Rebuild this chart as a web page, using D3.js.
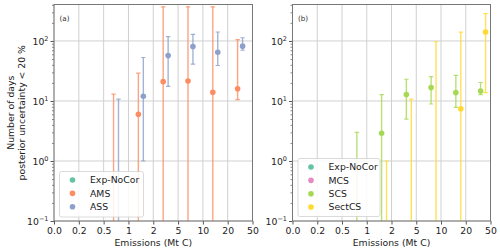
<!DOCTYPE html>
<html>
<head>
<meta charset="utf-8">
<script src="https://cdn.jsdelivr.net/npm/d3@7"></script>
<style>
  body { margin: 0; background: #fff; }
  svg { display: block; font-family: "DejaVu Sans", sans-serif; }
</style>
</head>
<body>
<svg id="chart" width="500" height="252"></svg>
<script>
// emission bins (x axis is categorical, one slot per bin edge)
const binLabels = ["0.0", "0.2", "0.5", "1", "2", "5", "10", "20", "50"];

// panel (a)
const amsBins  = [2, 3, 4, 5, 6, 7];
const amsValue = [null, 6, 21, 21.5, 14, 16];
const amsLower = [0, 0, 0, 0, 0, 10.5];
const amsUpper = [13, 29, 370, 370, 370, 105];

const assBins  = [2, 3, 4, 5, 6, 7];
const assValue = [null, 12, 57, 81, 65, 82];
const assLower = [0, 1, 17.5, 41, 39, 70];
const assUpper = [10.7, 53, 118, 129, 141, 113];

// panel (b)
const scsBins  = [2, 3, 4, 5, 6, 7];
const scsValue = [null, 2.9, 12.8, 16.7, 13.8, 14.7];
const scsLower = [0, 0, 5, 8.9, 7.85, 12.8];
const scsUpper = [3.0, 12.8, 23, 25.5, 26.8, 20.3];

const sectBins  = [3, 4, 5, 6, 7];
const sectValue = [null, null, null, 7.4, 141];
const sectLower = [0, 0, 0, 0, 13.8];
const sectUpper = [1.0, 10.7, 97, 140, 285];

const yTicks = [0.1, 1, 10, 100];
const yExp = ["\u22121", "0", "1", "2"];

const pack = (bins, v, lo, hi) => bins.map((b, i) => ({bin: b, value: v[i], lower: lo[i], upper: hi[i]}));

const panels = [
    {
        label: "(a)", left: 54, right: 252.5,
        series: [
            {name: "Exp-NoCor", color: "#66c2a5", offset: 0.2, data: []},
            {name: "AMS", color: "#fc8d62", offset: 0.4, data: pack(amsBins, amsValue, amsLower, amsUpper)},
            {name: "ASS", color: "#8da0cb", offset: 0.6, data: pack(assBins, assValue, assLower, assUpper)}
        ],
        legend: {x: 59.5, y: 171.5, w: 84, h: 45.5}
    },
    {
        label: "(b)", left: 292.5, right: 490.5,
        series: [
            {name: "Exp-NoCor", color: "#66c2a5", offset: 0.2, data: []},
            {name: "MCS", color: "#e78ac3", offset: 0.4, data: []},
            {name: "SCS", color: "#a6d854", offset: 0.6, data: pack(scsBins, scsValue, scsLower, scsUpper)},
            {name: "SectCS", color: "#ffd92f", offset: 0.8, data: pack(sectBins, sectValue, sectLower, sectUpper)}
        ],
        legend: {x: 298, y: 158.5, w: 82, h: 58}
    }
];

const plotTop = 4.5, plotBottom = 221;
const fs = 9.3;
const svg = d3.select("#chart");

const yScale = d3.scaleLog().domain([0.1, 405]).range([plotBottom, plotTop]);
const minorTicks = [];
[0.1, 1, 10, 100].forEach(d => { for (let k = 2; k <= 9; k++) if (d * k < 405) minorTicks.push(d * k); });

panels.forEach((p, pi) => {
    const xScale = d3.scaleLinear().domain([0, binLabels.length - 1]).range([p.left, p.right]);
    const g = svg.append("g");

    g.append("clipPath").attr("id", "clip" + pi)
        .append("rect").attr("x", p.left).attr("y", plotTop).attr("width", p.right - p.left).attr("height", plotBottom - plotTop);

    // grid
    g.append("g").selectAll("line").data(d3.range(binLabels.length)).join("line")
        .attr("x1", d => xScale(d)).attr("x2", d => xScale(d))
        .attr("y1", plotTop).attr("y2", plotBottom)
        .attr("stroke", "#d0d0d0").attr("stroke-width", 1);
    g.append("g").selectAll("line").data(yTicks).join("line")
        .attr("x1", p.left).attr("x2", p.right)
        .attr("y1", d => yScale(d)).attr("y2", d => yScale(d))
        .attr("stroke", "#d0d0d0").attr("stroke-width", 1);

    // error bars + dots
    const marks = g.append("g").attr("clip-path", `url(#clip${pi})`);
    p.series.forEach(s => {
        const sg = marks.append("g");
        const ly = d => d.lower > 0 ? yScale(d.lower) : plotBottom + 5;
        sg.selectAll(".bar").data(s.data).join("line")
            .attr("x1", d => xScale(d.bin + s.offset)).attr("x2", d => xScale(d.bin + s.offset))
            .attr("y1", ly).attr("y2", d => yScale(d.upper))
            .attr("stroke", s.color).attr("stroke-opacity", 0.8).attr("stroke-width", 1.4);
        sg.selectAll(".capHi").data(s.data).join("line")
            .attr("x1", d => xScale(d.bin + s.offset) - 2.2).attr("x2", d => xScale(d.bin + s.offset) + 2.2)
            .attr("y1", d => yScale(d.upper)).attr("y2", d => yScale(d.upper))
            .attr("stroke", s.color).attr("stroke-opacity", 0.8).attr("stroke-width", 1.2);
        sg.selectAll(".capLo").data(s.data.filter(d => d.lower > 0)).join("line")
            .attr("x1", d => xScale(d.bin + s.offset) - 2.2).attr("x2", d => xScale(d.bin + s.offset) + 2.2)
            .attr("y1", d => yScale(d.lower)).attr("y2", d => yScale(d.lower))
            .attr("stroke", s.color).attr("stroke-opacity", 0.8).attr("stroke-width", 1.2);
        sg.selectAll("circle").data(s.data.filter(d => d.value != null)).join("circle")
            .attr("cx", d => xScale(d.bin + s.offset)).attr("cy", d => yScale(d.value))
            .attr("r", 2.8).attr("fill", s.color);
    });

    // x axis
    const xAxis = g.append("g").attr("transform", `translate(0,${plotBottom})`)
        .call(d3.axisBottom(xScale).tickValues(d3.range(binLabels.length)).tickFormat(i => binLabels[i]).tickSize(3.5).tickPadding(2.5));
    xAxis.select(".domain").remove();
    xAxis.selectAll("line").attr("stroke", "#555");
    xAxis.selectAll("text").attr("font-size", fs).attr("fill", "#222").attr("font-family", "DejaVu Sans");

    // y axis minor
    const yMinor = g.append("g").attr("transform", `translate(${p.left},0)`)
        .call(d3.axisLeft(yScale).tickValues(minorTicks).tickFormat("").tickSize(2));
    yMinor.select(".domain").remove();
    yMinor.selectAll("line").attr("stroke", "#555").attr("stroke-width", 0.7);

    // y axis major
    const yAxis = g.append("g").attr("transform", `translate(${p.left},0)`)
        .call(d3.axisLeft(yScale).tickValues(yTicks).tickSize(3.5).tickPadding(2));
    yAxis.select(".domain").remove();
    yAxis.selectAll("line").attr("stroke", "#555");
    yAxis.selectAll("text").each(function(d, i) {
        const t = d3.select(this).text(null).attr("font-size", fs).attr("fill", "#222")
            .attr("font-family", "DejaVu Sans").attr("dy", "0.38em");
        t.append("tspan").text("10");
        t.append("tspan").attr("font-size", 6.5).attr("dy", "-0.55em").text(yExp[i]);
    });

    // frame
    g.append("rect").attr("x", p.left).attr("y", plotTop)
        .attr("width", p.right - p.left).attr("height", plotBottom - plotTop)
        .attr("fill", "none").attr("stroke", "#777").attr("stroke-width", 1);

    g.append("text").attr("x", p.left + 5.5).attr("y", 20.5)
        .attr("font-size", 7.2).attr("fill", "#333").text(p.label);

    g.append("text").attr("x", (p.left + p.right) / 2).attr("y", 246)
        .attr("text-anchor", "middle").attr("font-size", fs).attr("fill", "#222")
        .text("Emissions (Mt C)");

    // legend
    const lg = g.append("g");
    lg.append("rect").attr("x", p.legend.x).attr("y", p.legend.y)
        .attr("width", p.legend.w).attr("height", p.legend.h).attr("rx", 2)
        .attr("fill", "#fff").attr("fill-opacity", 0.85).attr("stroke", "#d0d0d0").attr("stroke-width", 0.8);
    p.series.forEach((s, i) => {
        const cy = p.legend.y + 8.5 + i * 13.35;
        lg.append("circle").attr("cx", p.legend.x + 13).attr("cy", cy).attr("r", 2.8).attr("fill", s.color);
        lg.append("text").attr("x", p.legend.x + 30.5).attr("y", cy).attr("dy", "0.36em")
            .attr("font-size", fs).attr("fill", "#222").text(s.name);
    });
});

// y label
const yl = svg.append("text").attr("transform", `translate(0,${(plotTop + plotBottom) / 2}) rotate(-90)`)
    .attr("text-anchor", "middle").attr("font-size", fs).attr("fill", "#222");
yl.append("tspan").attr("x", 0).attr("y", 14).text("Number of days");
yl.append("tspan").attr("x", 0).attr("y", 25).text("posterior uncertainty < 20 %");
</script>
</body>
</html>
